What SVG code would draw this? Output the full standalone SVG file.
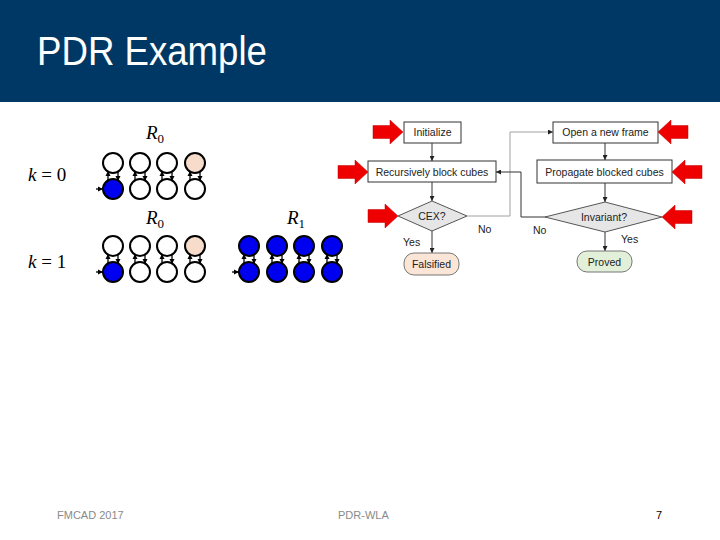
<svg xmlns="http://www.w3.org/2000/svg" width="720" height="540" viewBox="0 0 720 540">
<defs>
<style>
.st{stroke:#000;stroke-width:2}
.w{fill:#fff}
.b{fill:#0000f0}
.p{fill:#f8dccb}
.sa{stroke:#000;stroke-width:1.3;fill:none}
.box{fill:#fff;stroke:#333;stroke-width:1}
.dia{fill:#e6e6e6;stroke:#555;stroke-width:1}
.ft{font-family:"Liberation Sans",Arial,sans-serif;font-size:10.5px;fill:#222;text-anchor:middle}
.lb{font-family:"Liberation Sans",Arial,sans-serif;font-size:10.5px;fill:#222}
.con{stroke:#333;stroke-width:1;fill:none}
.conl{stroke:#a0a0a0;stroke-width:1;fill:none}
.math{font-family:"Liberation Serif","Times New Roman",serif;font-size:19px;fill:#000}
.foot{font-family:"Liberation Sans",Arial,sans-serif;font-size:11px;fill:#8a8a8a}
</style>
<marker id="ah" viewBox="0 0 10 10" refX="10" refY="5" markerWidth="5" markerHeight="5" orient="auto"><path d="M0,0 L10,5 L0,10 Z" fill="#222"/></marker>
<marker id="ahs" viewBox="0 0 10 10" refX="10" refY="5" markerWidth="4" markerHeight="4" orient="auto"><path d="M0,0 L10,5 L0,10 Z" fill="#000"/></marker>
<path id="red" d="M0,0 L-13,-12 L-13,-6.5 L-30,-6.5 L-30,6.5 L-13,6.5 L-13,12 Z" fill="#ee0000" stroke="#c00000" stroke-width="0.5"/>
<g id="pair">
<line class="sa" x1="-5" y1="18" x2="-5" y2="8" marker-end="url(#ahs)"/>
<line class="sa" x1="5" y1="8" x2="5" y2="18" marker-end="url(#ahs)"/>
</g>
</defs>
<rect width="720" height="540" fill="#fff"/>
<g id="header">
<rect x="0" y="0" width="720" height="102" fill="#003865"/>
<text x="37" y="65" font-family="'Liberation Sans',Arial,sans-serif" font-size="41" textLength="230" lengthAdjust="spacingAndGlyphs" fill="#fff">PDR Example</text>
</g>

<g id="labels">
<text class="math" x="28" y="181"><tspan font-style="italic">k</tspan> = 0</text>
<text class="math" x="28" y="268"><tspan font-style="italic">k</tspan> = 1</text>
<text class="math" x="146" y="139"><tspan font-style="italic">R</tspan><tspan font-size="13" dy="4">0</tspan></text>
<text class="math" x="146" y="224"><tspan font-style="italic">R</tspan><tspan font-size="13" dy="4">0</tspan></text>
<text class="math" x="287" y="224"><tspan font-style="italic">R</tspan><tspan font-size="13" dy="4">1</tspan></text>
</g>

<g id="k0-R0">
<use href="#pair" x="113" y="163"/><use href="#pair" x="140" y="163"/><use href="#pair" x="167" y="163"/><use href="#pair" x="195" y="163"/>
<circle class="st w" cx="113" cy="163" r="10"/><circle class="st w" cx="140" cy="163" r="10"/><circle class="st w" cx="167" cy="163" r="10"/><circle class="st p" cx="195" cy="163" r="10"/>
<circle class="st b" cx="113" cy="189" r="10"/><circle class="st w" cx="140" cy="189" r="10"/><circle class="st w" cx="167" cy="189" r="10"/><circle class="st w" cx="195" cy="189" r="10"/>
<line class="sa" x1="96" y1="189" x2="103" y2="189" marker-end="url(#ahs)"/>
</g>

<g id="k1-R0">
<use href="#pair" x="113" y="246"/><use href="#pair" x="140" y="246"/><use href="#pair" x="167" y="246"/><use href="#pair" x="195" y="246"/>
<circle class="st w" cx="113" cy="246" r="10"/><circle class="st w" cx="140" cy="246" r="10"/><circle class="st w" cx="167" cy="246" r="10"/><circle class="st p" cx="195" cy="246" r="10"/>
<circle class="st b" cx="113" cy="272" r="10"/><circle class="st w" cx="140" cy="272" r="10"/><circle class="st w" cx="167" cy="272" r="10"/><circle class="st w" cx="195" cy="272" r="10"/>
<line class="sa" x1="96" y1="272" x2="103" y2="272" marker-end="url(#ahs)"/>
</g>

<g id="k1-R1">
<use href="#pair" x="249" y="246"/><use href="#pair" x="277" y="246"/><use href="#pair" x="304" y="246"/><use href="#pair" x="332" y="246"/>
<circle class="st b" cx="249" cy="246" r="10"/><circle class="st b" cx="277" cy="246" r="10"/><circle class="st b" cx="304" cy="246" r="10"/><circle class="st b" cx="332" cy="246" r="10"/>
<circle class="st b" cx="249" cy="272" r="10"/><circle class="st b" cx="277" cy="272" r="10"/><circle class="st b" cx="304" cy="272" r="10"/><circle class="st b" cx="332" cy="272" r="10"/>
<line class="sa" x1="232" y1="272" x2="239" y2="272" marker-end="url(#ahs)"/>
</g>

<g id="connectors">
<line class="con" x1="432" y1="143" x2="432" y2="161" marker-end="url(#ah)"/>
<line class="con" x1="432" y1="182" x2="432" y2="201" marker-end="url(#ah)"/>
<line class="con" x1="432" y1="231" x2="432" y2="253" marker-end="url(#ah)"/>
<path class="conl" d="M467,216 H510 V132 H553" marker-end="url(#ah)"/>
<line class="con" x1="605" y1="143" x2="605" y2="160" marker-end="url(#ah)"/>
<line class="con" x1="605" y1="183" x2="605" y2="202" marker-end="url(#ah)"/>
<line class="con" x1="605" y1="232" x2="605" y2="251" marker-end="url(#ah)"/>
<path class="con" d="M546,217 H521 V172 H496" marker-end="url(#ah)"/>
</g>

<g id="initialize"><rect class="box" x="404" y="122" width="57" height="21"/><text class="ft" x="432.5" y="136">Initialize</text></g>
<g id="open-frame"><rect class="box" x="553" y="122" width="105" height="21"/><text class="ft" x="605.5" y="136">Open a new frame</text></g>
<g id="recursively"><rect class="box" x="368" y="161" width="128" height="21"/><text class="ft" x="432" y="175.5">Recursively block cubes</text></g>
<g id="propagate"><rect class="box" x="537" y="160" width="135" height="23"/><text class="ft" x="604.5" y="175.5">Propagate blocked cubes</text></g>
<g id="cex"><path class="dia" d="M398,216 L432,201 L467,216 L432,231 Z"/><text class="ft" x="432" y="220">CEX?</text></g>
<g id="invariant"><path class="dia" d="M545,217 L605,202 L662,217 L605,232 Z"/><text class="ft" x="604" y="221">Invariant?</text></g>
<g id="falsified"><rect x="404" y="253" width="55" height="22" rx="10" fill="#fbe5d6" stroke="#777" stroke-width="1"/><text class="ft" x="431.5" y="268">Falsified</text></g>
<g id="proved"><rect x="577" y="251" width="55" height="21" rx="10" fill="#e2f0d9" stroke="#777" stroke-width="1"/><text class="ft" x="604.5" y="266">Proved</text></g>

<g id="edge-labels">
<text class="lb" x="403" y="246">Yes</text>
<text class="lb" x="478" y="233">No</text>
<text class="lb" x="533" y="234">No</text>
<text class="lb" x="621" y="243">Yes</text>
</g>

<g id="red-arrows">
<use href="#red" x="403" y="132"/>
<use href="#red" x="368" y="172"/>
<use href="#red" x="398" y="216"/>
<use href="#red" transform="translate(658,132) scale(-1,1)"/>
<use href="#red" transform="translate(672,172) scale(-1,1)"/>
<use href="#red" transform="translate(662,217) scale(-1,1)"/>
</g>

<g id="footer">
<text class="foot" x="57" y="519">FMCAD 2017</text>
<text class="foot" x="338" y="519">PDR-WLA</text>
<text x="656" y="519" font-family="'Liberation Sans',Arial,sans-serif" font-size="11" fill="#000">7</text>
</g>
</svg>
